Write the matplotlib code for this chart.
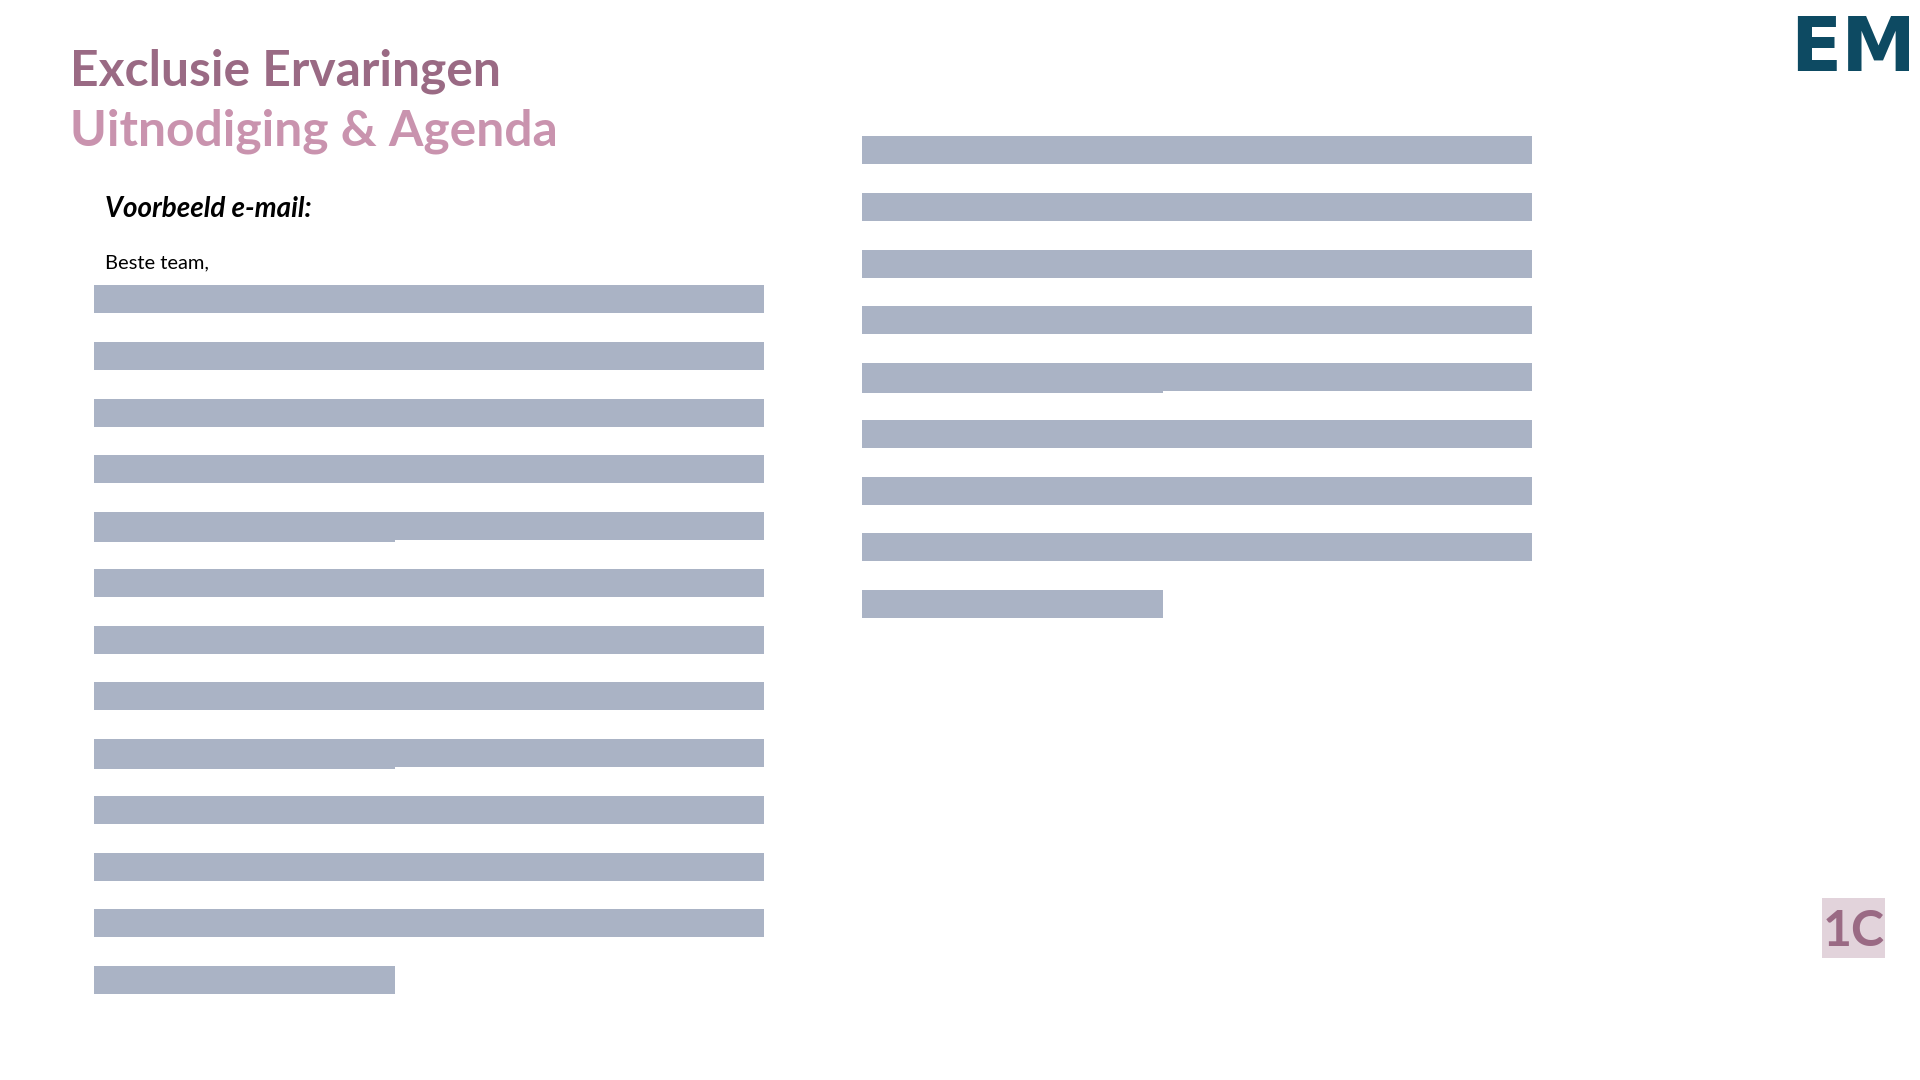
import numpy as np
import matplotlib
matplotlib.use("Agg")
import matplotlib.pyplot as plt
from matplotlib.patches import Rectangle

# placeholder text lines of the example e-mail (fraction of a full line)
left_lines = [1, 1, 1, 1, 1, 1, 1, 1, 1, 1, 1, 1, 0.449]
right_lines = [1, 1, 1, 1, 1, 1, 1, 1, 0.449]
# rows where a short line sits under a full line (slightly offset)
left_step_rows = [4, 8]
right_step_rows = [4]
step_frac = 0.449

title_1 = "Exclusie Ervaringen"
title_2 = "Uitnodiging & Agenda"
subtitle = "Voorbeeld e-mail:"
greeting = "Beste team,"
logo = "EM"
badge = "1C"

BAR = "#aab3c5"
DARK_PINK = "#9a6a84"
LIGHT_PINK = "#c993ae"
TEAL = "#0d4a62"
BADGE_BG = "#e2d3db"

fig = plt.figure(figsize=(19.2, 10.8), dpi=100)
ax = fig.add_axes([0, 0, 1, 1])
ax.set_xlim(0, 1920)
ax.set_ylim(1080, 0)
ax.axis("off")

line_w = 670
line_h = 28
pitch = 56.75


def draw_column(x0, y0, lines, steps):
    ys = y0 + np.arange(len(lines)) * pitch
    ax.barh(ys, np.array(lines) * line_w, height=line_h, left=x0,
            align="edge", color=BAR, linewidth=0)
    for r in steps:
        # the short line peeks out a bit below the full one
        ax.barh(ys[r] + 1.5, step_frac * line_w, height=line_h, left=x0,
                align="edge", color=BAR, linewidth=0)


draw_column(94, 285, left_lines, left_step_rows)
draw_column(862, 136, right_lines, right_step_rows)

lato = ["Lato", "DejaVu Sans"]

# titles
ax.text(70, 86, title_1, fontsize=35.8, fontweight="bold", family=lato,
        color=DARK_PINK, va="baseline", ha="left")
ax.text(70, 146, title_2, fontsize=35.8, fontweight="bold", family=lato,
        color=LIGHT_PINK, va="baseline", ha="left")
ax.text(105, 217, subtitle, fontsize=20, fontweight="bold", fontstyle="italic",
        family=lato, color="black", va="baseline", ha="left")
ax.text(105, 268, greeting, fontsize=14.5, family=lato,
        color="black", va="baseline", ha="left")

# logo
ax.text(1916, 71, logo, fontsize=54, fontweight="bold", family="DejaVu Sans",
        color=TEAL, va="baseline", ha="right")

# badge
ax.add_patch(Rectangle((1822, 898), 63, 60, color=BADGE_BG, linewidth=0))
ax.text(1853.5, 946, badge, fontsize=36, fontweight="bold", family=lato,
        color=DARK_PINK, va="baseline", ha="center")

fig.savefig("out.png", dpi=100, facecolor="white")
